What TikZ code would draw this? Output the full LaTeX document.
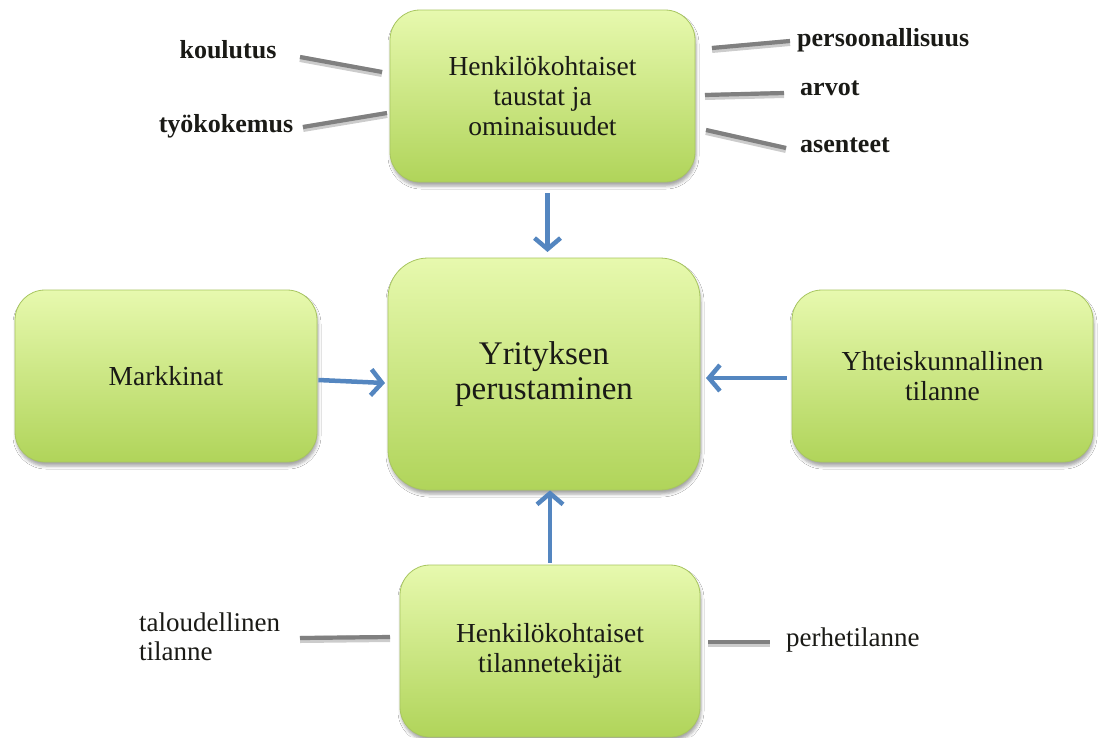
\documentclass[tikz,border=0pt]{standalone}
\usepackage{fontspec}
\setmainfont{Liberation Serif}
\usetikzlibrary{arrows.meta,shadows.blur}
\definecolor{boxtop}{RGB}{231,249,174}
\definecolor{boxbot}{RGB}{176,212,90}
\definecolor{boxedge}{RGB}{168,198,96}
\definecolor{linkgray}{RGB}{128,128,128}
\definecolor{flowblue}{RGB}{84,134,192}
\definecolor{inktext}{RGB}{26,26,22}
\begin{document}
\begin{tikzpicture}[x=1pt,y=-1pt,
  greenbox/.style={draw=boxedge, line width=0.8pt, rounded corners=#1,
    top color=boxtop, bottom color=boxbot,
    blur shadow={shadow xshift=1pt, shadow yshift=-4pt, shadow blur radius=3pt, shadow opacity=35},
    inner sep=0pt, align=center, text=inktext, font=\fontsize{27.5}{30}\selectfont},
  greenbox/.default=30pt,
  bigtext/.style={font=\fontsize{33}{35}\selectfont},
  tag/.style={inner sep=0pt, text=inktext, font=\fontsize{27}{29}\selectfont},
  boldtag/.style={tag, font=\fontsize{26}{29}\bfseries},
  linkline/.style={draw=linkgray, line width=4.2pt,
    preaction={draw=black, draw opacity=0.2, line width=7pt, transform canvas={yshift=-1.5pt}}},
  flowarrow/.style={draw=flowblue, line width=4.5pt, -{Straight Barb[length=11pt,width=26pt]}}
]
\useasboundingbox[fill=white] (0,0) rectangle (1099,737);

% boxes
\node[greenbox, minimum width=305pt, minimum height=172pt] (bg) at (542.5,96)
  {Henkilökohtaiset\\taustat ja\\ominaisuudet};
\node[greenbox=40pt, minimum width=312pt, minimum height=232pt, bigtext] (core) at (544,374)
  {Yrityksen\\perustaminen};
\node[greenbox, minimum width=302pt, minimum height=172pt] (market) at (166,376)
  {Markkinat};
\node[greenbox, minimum width=301pt, minimum height=172pt] (society) at (942.5,376)
  {Yhteiskunnallinen\\tilanne};
\node[greenbox, minimum width=300pt, minimum height=172pt] (situ) at (550,651)
  {Henkilökohtaiset\\tilannetekijät};

% side labels
\node[boldtag] (edu) at (228,50) {koulutus};
\node[boldtag] (work) at (226,126) {työkokemus};
\node[boldtag, anchor=west] (pers) at (797,40) {persoonallisuus};
\node[boldtag, anchor=west] (val) at (800,88) {arvot};
\node[boldtag, anchor=west] (att) at (800,145) {asenteet};
\node[tag, anchor=west, align=left] (econ) at (139,637) {taloudellinen\\tilanne};
\node[tag, anchor=west] (fam) at (786,640) {perhetilanne};

% ends of the grey links
\coordinate (eduA) at (300,57);   \coordinate (eduB) at (382,72);
\coordinate (workA) at (303,127); \coordinate (workB) at (387,113);
\coordinate (persA) at (712,48);  \coordinate (persB) at (790,41);
\coordinate (valA) at (705,95);   \coordinate (valB) at (784,93);
\coordinate (attA) at (706,130);  \coordinate (attB) at (786,148);
\coordinate (econA) at (300,638); \coordinate (econB) at (390,637);
\coordinate (famA) at (708,642);  \coordinate (famB) at (770,642);

\draw[linkline] (eduA) -- (eduB);
\draw[linkline] (workA) -- (workB);
\draw[linkline] (persA) -- (persB);
\draw[linkline] (valA) -- (valB);
\draw[linkline] (attA) -- (attB);
\draw[linkline] (econA) -- (econB);
\draw[linkline] (famA) -- (famB);

% flows into the centre
\draw[flowarrow] (bg.south) ++(5,11) coordinate (bgOut) -- (bgOut |- 0,252);
\draw[flowarrow] (market.east) ++(1,4) coordinate (mkOut) -- (385,383);
\draw[flowarrow] (society.west) ++(-5,2) coordinate (soOut) -- (706,378);
\draw[flowarrow] (situ.north) ++(0,-2) coordinate (siOut) -- (siOut |- core.south);
\end{tikzpicture}
\end{document}
